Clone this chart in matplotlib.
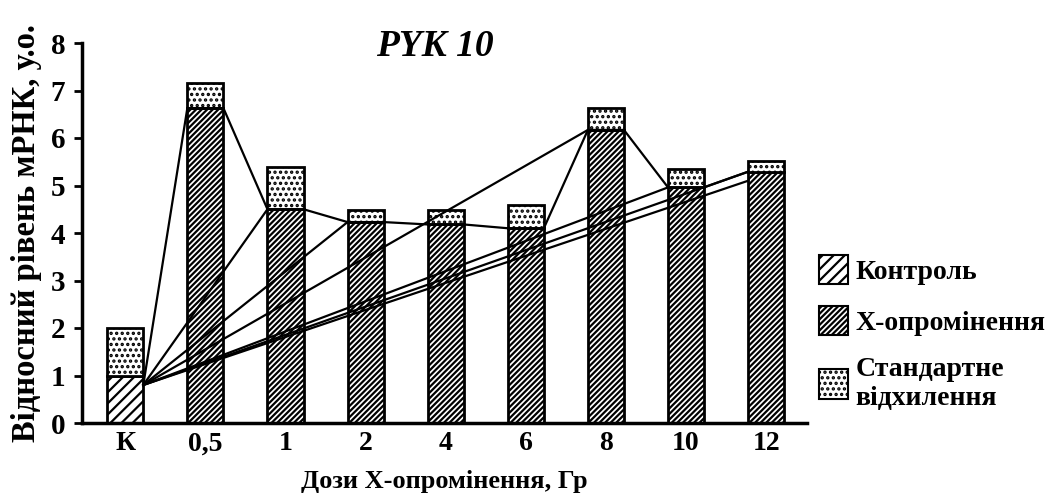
import numpy as np
import matplotlib
matplotlib.use('Agg')
import matplotlib.pyplot as plt
from matplotlib.patches import Patch

# Data
categories = ['К', '0,5', '1', '2', '4', '6', '8', '10', '12']
means = [1.0, 6.63, 4.5, 4.23, 4.18, 4.1, 6.17, 4.96, 5.29]
stds = [1.0, 0.53, 0.9, 0.25, 0.3, 0.49, 0.47, 0.38, 0.22]

# extra straight lines drawn from the control bar (Excel artefact)
anchor_value = 0.8
spoke_idx = [2, 3, 6, 7, 8, 8]
spoke_val = [4.5, 4.23, 6.17, 4.96, 5.29, 5.1]

plt.rcParams['font.family'] = ['Liberation Serif', 'DejaVu Serif']
plt.rcParams['hatch.linewidth'] = 1.6

fig = plt.figure(figsize=(10.47, 5.04), dpi=100)
ax = fig.add_axes([82 / 1047, 81 / 504, (807 - 82) / 1047, 380 / 504])

x = np.arange(len(categories))
w = 0.45

# bars
for i in range(len(categories)):
    hatch = '///' if i == 0 else '//////'
    ax.bar(x[i], means[i], w, color='white', edgecolor='black', hatch=hatch, linewidth=2, zorder=2)
    ax.bar(x[i], stds[i], w, bottom=means[i], color='white', edgecolor='black', hatch='...', linewidth=2, zorder=2)

# polyline across the mean tops
px = [x[0] + w / 2]
py = [anchor_value]
for i in range(1, len(categories)):
    px += [x[i] - w / 2, x[i] + w / 2]
    py += [means[i], means[i]]
ax.plot(px[:-1], py[:-1], color='black', lw=1.6, zorder=3)

# spokes from the control bar
for i, v in zip(spoke_idx, spoke_val):
    ax.plot([x[0] + w / 2, x[i] - w / 2], [anchor_value, v], color='black', lw=1.6, zorder=3)

ax.set_xlim(-0.54, 8.51)
ax.set_ylim(0, 8)
ax.set_yticks(range(0, 9))
ax.set_xticks(x)
ax.set_xticklabels(categories)
ax.tick_params(axis='y', direction='out', length=6, width=2, labelsize=21, pad=6)
ax.tick_params(axis='x', length=0, labelsize=20, pad=6)
for lab in ax.get_xticklabels() + ax.get_yticklabels():
    lab.set_fontweight('bold')
for s in ['top', 'right']:
    ax.spines[s].set_visible(False)
for s in ['left', 'bottom']:
    ax.spines[s].set_linewidth(2.5)

ax.set_ylabel('Відносний рівень мРНК, у.о.', fontsize=23.5, fontweight='bold', labelpad=6)
ax.set_xlabel('Дози Х-опромінення, Гр', fontsize=19, fontweight='bold', labelpad=10)

fig.text(435 / 1047, 1 - 46 / 504, 'PYK 10', fontsize=27, fontweight='bold', style='italic',
         ha='center', va='center')

handles = [
    Patch(facecolor='white', edgecolor='black', hatch='///', linewidth=1.5),
    Patch(facecolor='white', edgecolor='black', hatch='//////', linewidth=1.5),
    Patch(facecolor='white', edgecolor='black', hatch='...', linewidth=1.5),
]
labels = ['Контроль', 'Х-опромінення', 'Стандартне\nвідхилення']
fig.legend(handles, labels, loc='upper left', bbox_to_anchor=(808 / 1047, 1 - 244 / 504),
           frameon=False, prop={'size': 20, 'weight': 'bold'}, handlelength=1.05, handleheight=1.25,
           handletextpad=0.25, labelspacing=0.75, borderaxespad=0)

fig.savefig('out.png', dpi=100)
